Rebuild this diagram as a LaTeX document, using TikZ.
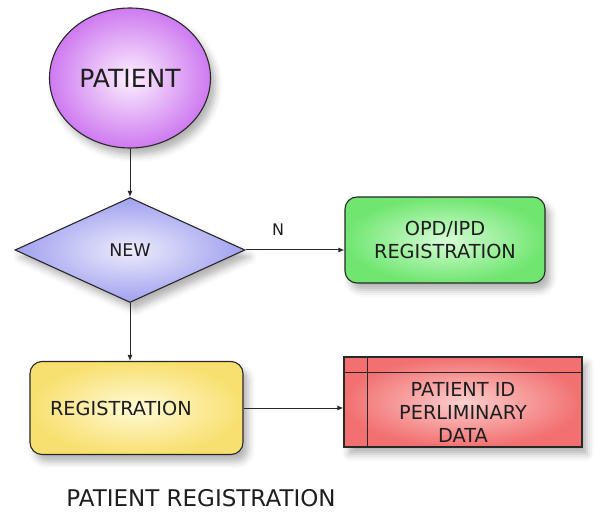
\documentclass[tikz,border=0pt]{standalone}
\usepackage{fontspec}
\setmainfont{DejaVu Sans}
\usetikzlibrary{shapes.geometric,arrows.meta,shadows.blur}

\definecolor{violetedge}{RGB}{206,122,240}
\definecolor{violetcore}{RGB}{252,240,255}
\definecolor{lavedge}{RGB}{160,160,240}
\definecolor{lavcore}{RGB}{236,236,252}
\definecolor{greenedge}{RGB}{112,230,112}
\definecolor{greencore}{RGB}{214,252,214}
\definecolor{yellowedge}{RGB}{248,224,112}
\definecolor{yellowcore}{RGB}{255,250,214}
\definecolor{rededge}{RGB}{242,112,112}
\definecolor{redcore}{RGB}{252,206,206}
\definecolor{inkline}{RGB}{40,40,40}
\definecolor{inktext}{RGB}{30,30,30}

\begin{document}
\begin{tikzpicture}[x=1pt,y=-1pt,
  box/.style={draw=inkline, line width=1.1pt, text=inktext},
  softshadow/.style={blur shadow={shadow xshift=5pt, shadow yshift=-7pt,
      shadow blur radius=7pt, shadow opacity=30}},
  link/.style={draw=inkline, line width=1pt, -{Latex[length=6pt,width=5pt]}},
  rounded/.style={box, rounded corners=12pt, softshadow},
  caption/.style={text=inktext, inner sep=0pt},
  bodyfont/.style={font=\fontsize{19.3}{23}\selectfont}
]
\useasboundingbox (0,0) rectangle (616,513);

% start terminal
\node[box, ellipse, minimum width=161pt, minimum height=140pt, inner sep=0pt,
      inner color=violetcore, outer color=violetedge, softshadow,
      font=\fontsize{25}{28}\selectfont] (patient) at (130,78) {PATIENT};

% decision
\node[box, diamond, minimum width=230pt, minimum height=105pt, inner sep=0pt,
      inner color=lavcore, outer color=lavedge, softshadow,
      font=\fontsize{17.5}{20}\selectfont] (new) at (130,250) {NEW};

% existing patient branch
\node[rounded, minimum width=200pt, minimum height=86pt, align=center,
      inner color=greencore, outer color=greenedge, bodyfont] (opd) at (445,240)
      {OPD/IPD\\REGISTRATION};

% new patient branch
\node[rounded, minimum width=213pt, minimum height=93pt, text width=173pt,
      inner xsep=20pt, align=left,
      inner color=yellowcore, outer color=yellowedge, bodyfont] (reg) at (136.5,408)
      {REGISTRATION};

% data store
\node[box, rectangle, minimum width=238pt, minimum height=90pt, softshadow,
      inner color=redcore, outer color=rededge] (store) at (463,402) {};
\draw[draw=inkline, line width=1pt]
  ([xshift=24pt]store.north west) -- ([xshift=24pt]store.south west);
\draw[draw=inkline, line width=1pt]
  ([yshift=-16pt]store.north west) -- ([yshift=-16pt]store.north east);
\node[caption, align=center, bodyfont]
  (storetext) at (463,412) {PATIENT ID\\PERLIMINARY\\DATA};

% connectors
\draw[link] (patient) -- (new);
\draw[link] (new.east) -- (new.east -| opd.west)
  node[pos=0.33, above=14pt, caption, font=\fontsize{16}{19}\selectfont] (nlabel) {N};
\draw[link] (new.south) -- (new.south |- reg.north);
\draw[link] (reg.east) -- (reg.east -| store.west);

% title
\node[caption, font=\fontsize{23}{27}\selectfont] (title) at (201,498)
  {PATIENT REGISTRATION};
\end{tikzpicture}
\end{document}
